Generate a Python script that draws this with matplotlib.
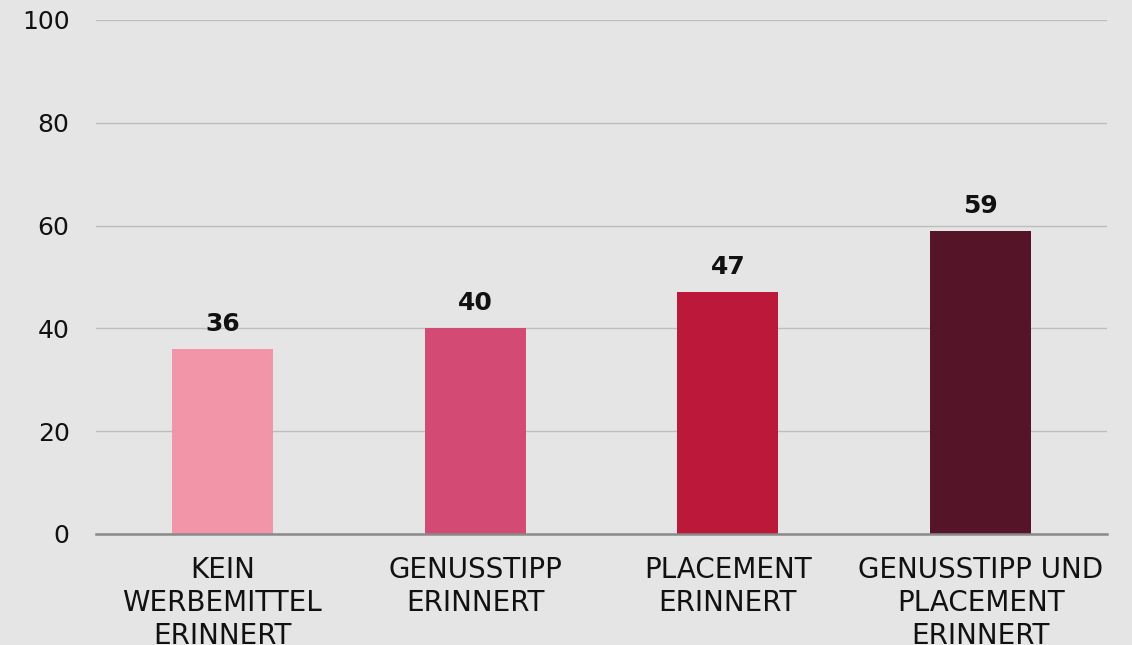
import matplotlib
matplotlib.use("Agg")
import matplotlib.pyplot as plt

# Werbeerinnerung nach Werbemittel
categories = ["KEIN\nWERBEMITTEL\nERINNERT", "GENUSSTIPP\nERINNERT",
              "PLACEMENT\nERINNERT", "GENUSSTIPP UND\nPLACEMENT\nERINNERT"]
values = [36, 40, 47, 59]
colors = ["#F295A8", "#D34A74", "#BC1839", "#551427"]
yticks = [0, 20, 40, 60, 80, 100]

bg = "#E5E5E5"
plt.rcParams['font.family'] = ['DejaVu Sans']

fig = plt.figure(figsize=(11.32, 6.45), dpi=100, facecolor=bg)
ax = fig.add_axes([0.0848, 0.1721, 0.8932, 0.7969])
ax.set_facecolor(bg)

x = range(len(categories))
bars = ax.bar(x, values, width=0.40, color=colors, zorder=3)

for b, v in zip(bars, values):
    ax.annotate(str(v), (b.get_x() + b.get_width() / 2, v),
                xytext=(0, 13), textcoords="offset points",
                ha="center", va="baseline", fontsize=18, fontweight="bold",
                color="#111111")

ax.set_xlim(-0.5, 3.5)
ax.set_ylim(0, 100)
ax.set_yticks(yticks)
ax.set_xticks(list(x))
ax.set_xticklabels(categories, fontsize=20, color="#111111", linespacing=1.22)
ax.tick_params(axis="y", length=0, pad=19, labelsize=18, labelcolor="#111111")
ax.tick_params(axis="x", length=0, pad=16)

ax.grid(axis="y", color="#BDBDBD", linewidth=1, zorder=0)
for s in ["top", "right", "left"]:
    ax.spines[s].set_visible(False)
ax.spines["bottom"].set_color("#8A8A8A")
ax.spines["bottom"].set_linewidth(1.8)
ax.spines["bottom"].set_zorder(4)

fig.savefig("out.png", dpi=100, facecolor=bg)
